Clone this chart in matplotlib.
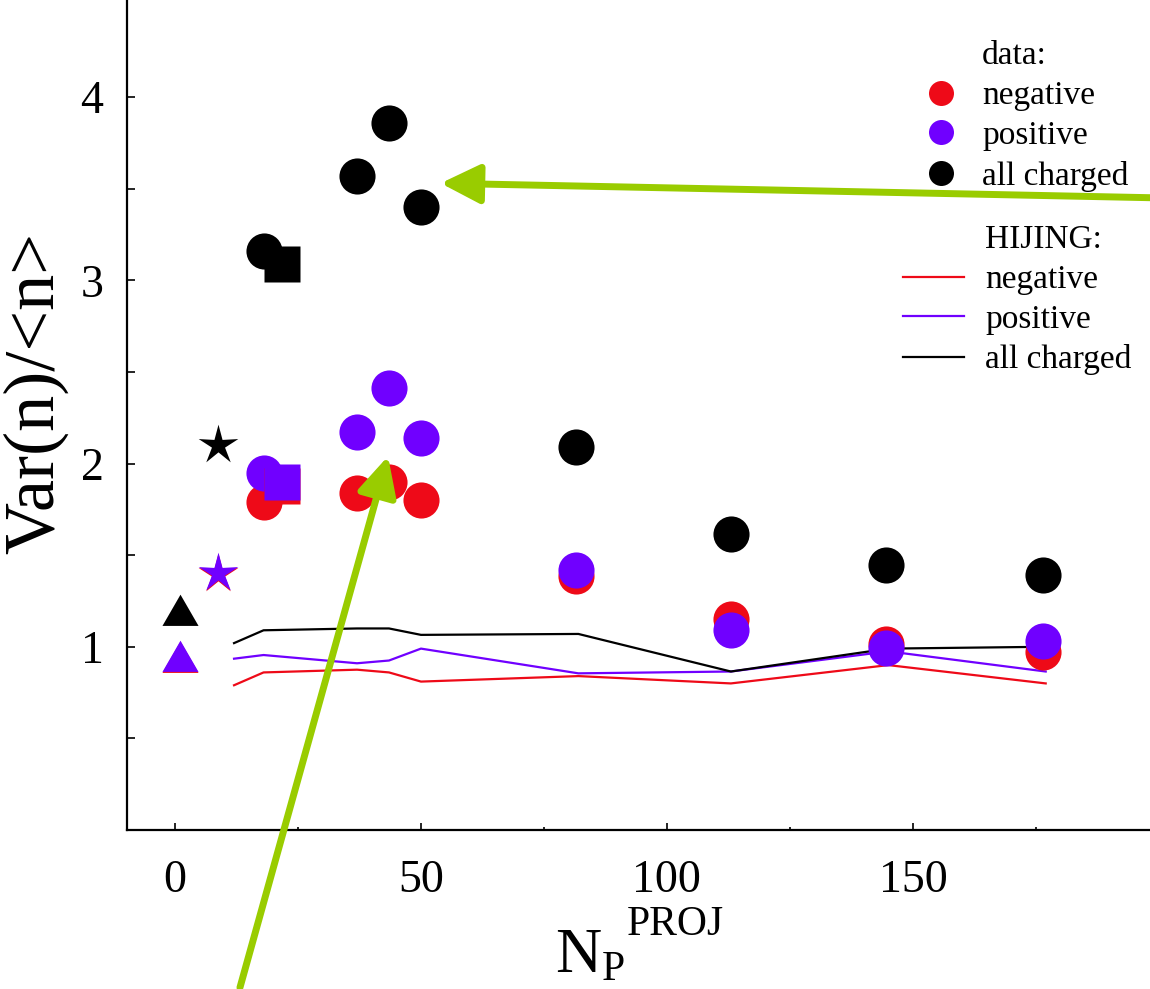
import matplotlib
matplotlib.use("Agg")
import matplotlib.pyplot as plt
from matplotlib.lines import Line2D
from matplotlib.path import Path
from matplotlib.ticker import FixedLocator, FuncFormatter

plt.rcParams['font.family'] = ['Liberation Serif', 'DejaVu Serif']

# data points (N_P^PROJ, Var(n)/<n>)
np_data = [18, 37, 43.5, 50, 81.5, 113, 144.5, 176.5]
neg_data = [1.79, 1.84, 1.90, 1.80, 1.385, 1.15, 1.015, 0.97]
pos_data = [1.95, 2.17, 2.41, 2.14, 1.42, 1.09, 0.995, 1.03]
all_data = [3.16, 3.57, 3.86, 3.40, 2.09, 1.615, 1.445, 1.39]

# extra data symbols (square, star, triangle)
np_square = [21.7]
neg_square = [1.88]
pos_square = [1.90]
all_square = [3.09]

np_star = [8.7]
neg_star = [1.395]
pos_star = [1.405]
all_star = [2.10]

np_tri = [1.0]
neg_tri = [0.915]
pos_tri = [0.92]
all_tri = [1.175]

# HIJING curves
np_hijing = [12, 18, 37, 43.5, 50, 82, 113, 145, 177]
neg_hijing = [0.79, 0.86, 0.875, 0.86, 0.81, 0.84, 0.80, 0.90, 0.80]
pos_hijing = [0.935, 0.955, 0.91, 0.925, 0.99, 0.855, 0.865, 0.975, 0.865]
all_hijing = [1.02, 1.09, 1.10, 1.10, 1.065, 1.07, 0.865, 0.99, 1.00]

y_ticks = [0.5, 1.0, 1.5, 2.0, 2.5, 3.0, 3.5, 4.0]

RED = '#ee0a18'
PURPLE = '#7000ff'
BLACK = 'black'
GREEN = '#99cc00'

W, H = 1150, 989
fig = plt.figure(figsize=(W / 100, H / 100), dpi=100)
# axes box runs off the top and right edge of the picture
ax = fig.add_axes([127 / W, (H - 830) / H, (W - 127) / W, 830 / H])
ax.set_xlim(-9.76, 198.2)
ax.set_ylim(0, 4.53)

for s in ['top', 'right']:
    ax.spines[s].set_visible(False)
for s in ['left', 'bottom']:
    ax.spines[s].set_linewidth(1.6)

# HIJING lines
ax.plot(np_hijing, neg_hijing, color=RED, lw=1.6, zorder=2)
ax.plot(np_hijing, pos_hijing, color=PURPLE, lw=1.6, zorder=2)
ax.plot(np_hijing, all_hijing, color=BLACK, lw=1.6, zorder=2)

star = Path.unit_regular_star(5, 0.33)
tri = (3, 0, 0)
ms = 26
for xs, ys, col in [(np_data, neg_data, RED), (np_data, pos_data, PURPLE),
                    (np_data, all_data, BLACK)]:
    ax.plot(xs, ys, 'o', color=col, ms=ms, mec='none', zorder=3)
for ysq, yst, ytr, col in [(neg_square, neg_star, neg_tri, RED),
                           (pos_square, pos_star, pos_tri, PURPLE),
                           (all_square, all_star, all_tri, BLACK)]:
    ax.plot(np_square, ysq, 's', color=col, ms=ms, mec='none', zorder=3)
    ax.plot(np_star, yst, marker=star, ls='none', color=col, ms=30, mec='none', zorder=3)
    ax.plot(np_tri, ytr, marker=tri, ls='none', color=col, ms=30, mec='none', zorder=3)

# ticks
ax.xaxis.set_major_locator(FixedLocator([0, 50, 100, 150]))
ax.xaxis.set_minor_locator(FixedLocator([25, 75, 125, 175]))
ax.yaxis.set_major_locator(FixedLocator(y_ticks))
ax.yaxis.set_major_formatter(FuncFormatter(
    lambda v, p: '%d' % v if abs(v - round(v)) < 1e-6 else ''))
ax.tick_params(axis='x', which='major', direction='in', length=5, width=1.2,
               labelsize=33, pad=21)
ax.tick_params(axis='x', which='minor', direction='in', length=2.5, width=1.2)
ax.tick_params(axis='y', which='major', direction='in', length=6, width=1.2,
               labelsize=33, pad=17)

# x label: N with subscript P and superscript PROJ
fig.text(555 / W, 1 - 972 / H, 'N', fontsize=46, ha='left', va='baseline')
fig.text(602 / W, 1 - 980 / H, 'P', fontsize=30, ha='left', va='baseline')
fig.text(627 / W, 1 - 935 / H, 'PROJ', fontsize=30, ha='left', va='baseline')

ax.text(-0.089, 0.527, 'Var(n)/<n>', rotation=90, fontsize=52,
        ha='center', va='center', transform=ax.transAxes)

# legends
h_data = [Line2D([], [], ls='none'),
          Line2D([], [], ls='none', marker='o', color=RED, ms=18, mec='none'),
          Line2D([], [], ls='none', marker='o', color=PURPLE, ms=18, mec='none'),
          Line2D([], [], ls='none', marker='o', color=BLACK, ms=18, mec='none')]
leg1 = ax.legend(h_data, ['data:', 'negative', 'positive', 'all charged'],
                 loc='upper left', bbox_to_anchor=(921 / W, 1 - 41 / H),
                 bbox_transform=fig.transFigure, frameon=False, fontsize=24,
                 handlelength=1.2, handletextpad=0.63, borderpad=0,
                 borderaxespad=0, labelspacing=0.28)
ax.add_artist(leg1)
h_hij = [Line2D([], [], ls='none'),
         Line2D([], [], color=RED, lw=1.6),
         Line2D([], [], color=PURPLE, lw=1.6),
         Line2D([], [], color=BLACK, lw=1.6)]
ax.legend(h_hij, ['HIJING:', 'negative', 'positive', 'all charged'],
          loc='upper left', bbox_to_anchor=(903 / W, 1 - 225 / H),
          bbox_transform=fig.transFigure, frameon=False, fontsize=24,
          handlelength=1.83, handletextpad=0.63, borderpad=0,
          borderaxespad=0, labelspacing=0.28)

# green arrows
arrow = dict(arrowstyle='-|>,head_length=0.4,head_width=0.2', color=GREEN,
             lw=5, mutation_scale=60, shrinkA=0, shrinkB=0)
ax.annotate('', xy=(54.0, 3.53), xytext=(200, 3.45), arrowprops=arrow,
            annotation_clip=False, zorder=5)
ax.annotate('', xy=(43.3, 2.04), xytext=(13.2, -0.86), arrowprops=arrow,
            annotation_clip=False, zorder=5)

fig.savefig('out.png', dpi=100)
